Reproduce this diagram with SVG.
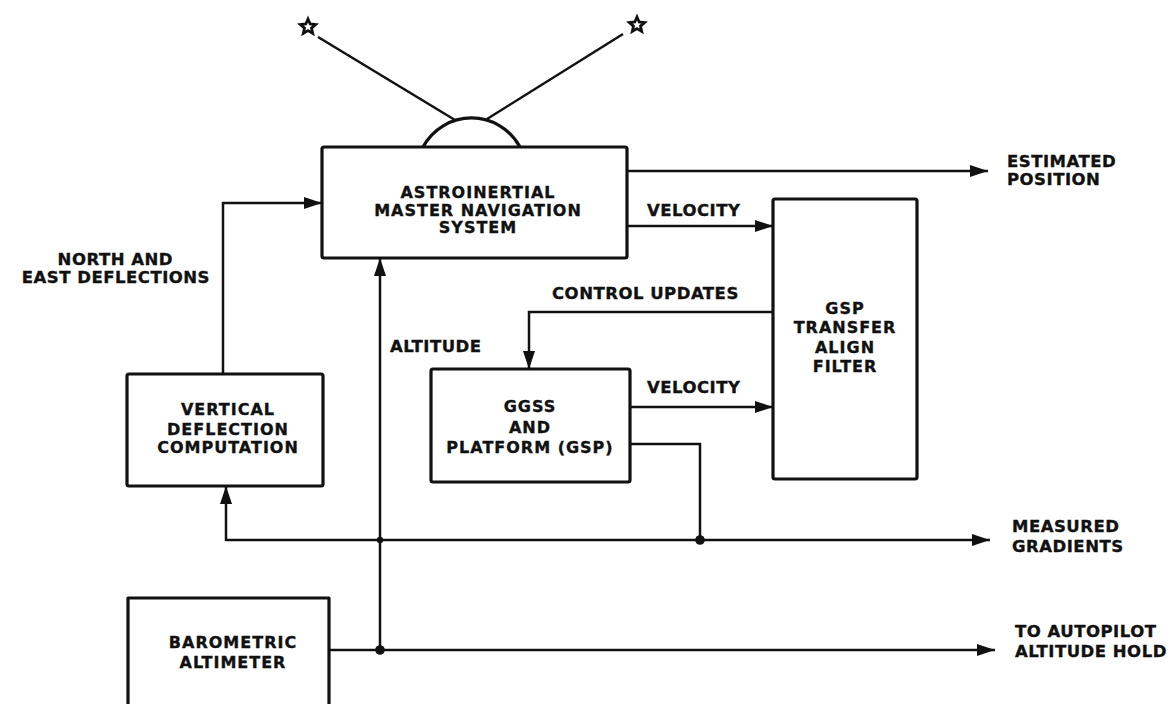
<svg xmlns="http://www.w3.org/2000/svg" width="1173" height="704" viewBox="0 0 1173 704">
<style>
.box{fill:none;stroke:#111;stroke-width:3.2;stroke-linejoin:round}
.ln{fill:none;stroke:#111;stroke-width:2.5}
.bt{font-family:"DejaVu Sans",sans-serif;font-weight:bold;font-size:16px;letter-spacing:1px;fill:#111;stroke:#111;stroke-width:0.35;text-anchor:middle}
.lb{font-family:"DejaVu Sans",sans-serif;font-weight:bold;font-size:16.5px;letter-spacing:0.5px;fill:#111;stroke:#111;stroke-width:0.35}
.dot{fill:#111}
.star{fill:#fff;stroke:#111;stroke-width:2.8;stroke-linejoin:miter}
</style>
<defs>
<marker id="ah" markerUnits="userSpaceOnUse" markerWidth="18" markerHeight="12" refX="18" refY="6" orient="auto">
<path d="M0,0 L18,6 L0,12 Z" fill="#111"/>
</marker>
</defs>
<rect width="1173" height="704" fill="#fff"/>

<g id="stars">
<polygon class="star" points="308,19 310.2,24 315.6,24.5 311.5,28.1 312.7,33.4 308,30.6 303.3,33.4 304.5,28.1 300.4,24.5 305.8,24"/>
<polygon class="star" points="637,17 639.2,22 644.6,22.5 640.5,26.1 641.7,31.4 637,28.6 632.3,31.4 633.5,26.1 629.4,22.5 634.8,22"/>
<path class="ln" d="M318,37 L455,120"/>
<path class="ln" d="M487,119 L623,34"/>
</g>

<g id="master-nav">
<path class="box" d="M423,147 A55,55 0 0 1 520,147"/>
<rect class="box" x="322" y="147" width="305" height="111" rx="2"/>
<text class="bt" x="478" y="198">ASTROINERTIAL</text>
<text class="bt" x="478" y="216">MASTER NAVIGATION</text>
<text class="bt" x="478" y="233">SYSTEM</text>
</g>

<g id="filter">
<rect class="box" x="773" y="199" width="144" height="280" rx="2"/>
<text class="bt" x="845" y="314">GSP</text>
<text class="bt" x="845" y="333">TRANSFER</text>
<text class="bt" x="845" y="353">ALIGN</text>
<text class="bt" x="845" y="372">FILTER</text>
</g>

<g id="ggss">
<rect class="box" x="431" y="369" width="199" height="113" rx="2"/>
<text class="bt" x="530" y="412">GGSS</text>
<text class="bt" x="530" y="433">AND</text>
<text class="bt" x="530" y="453">PLATFORM (GSP)</text>
</g>

<g id="vdc">
<rect class="box" x="127" y="374" width="196" height="112" rx="2"/>
<text class="bt" x="228" y="415">VERTICAL</text>
<text class="bt" x="228" y="435">DEFLECTION</text>
<text class="bt" x="228" y="453">COMPUTATION</text>
</g>

<g id="baro">
<path class="box" d="M128,704 L128,598 L329,598 L329,704"/>
<text class="bt" x="233" y="648">BAROMETRIC</text>
<text class="bt" x="233" y="668">ALTIMETER</text>
</g>

<g id="connectors">
<path class="ln" d="M627,171 L988,171" marker-end="url(#ah)"/>
<path class="ln" d="M627,226 L773,226" marker-end="url(#ah)"/>
<path class="ln" d="M773,312 L529,312 L529,369" marker-end="url(#ah)"/>
<path class="ln" d="M630,407 L773,407" marker-end="url(#ah)"/>
<path class="ln" d="M630,444 L700,444 L700,540"/>
<path class="ln" d="M223,374 L223,203 L322,203" marker-end="url(#ah)"/>
<path class="ln" d="M380,650 L380,258" marker-end="url(#ah)"/>
<path class="ln" d="M226,540 L990,540" marker-end="url(#ah)"/>
<path class="ln" d="M226,541 L226,486" marker-end="url(#ah)"/>
<path class="ln" d="M329,650 L995,650" marker-end="url(#ah)"/>
<circle class="dot" cx="380" cy="540" r="3.2"/>
<circle class="dot" cx="700" cy="540" r="4.8"/>
<circle class="dot" cx="380" cy="650" r="4.8"/>
</g>

<g id="labels">
<text class="lb" x="1007" y="167">ESTIMATED</text>
<text class="lb" x="1007" y="185">POSITION</text>
<text class="lb" x="647" y="216">VELOCITY</text>
<text class="lb" x="552" y="299">CONTROL UPDATES</text>
<text class="lb" x="647" y="393">VELOCITY</text>
<text class="lb" x="390" y="352">ALTITUDE</text>
<text class="lb" x="173" y="265" text-anchor="end">NORTH AND</text>
<text class="lb" x="210" y="283" text-anchor="end">EAST DEFLECTIONS</text>
<text class="lb" x="1012" y="532">MEASURED</text>
<text class="lb" x="1012" y="552">GRADIENTS</text>
<text class="lb" x="1015" y="637">TO AUTOPILOT</text>
<text class="lb" x="1015" y="657">ALTITUDE HOLD</text>
</g>
</svg>
